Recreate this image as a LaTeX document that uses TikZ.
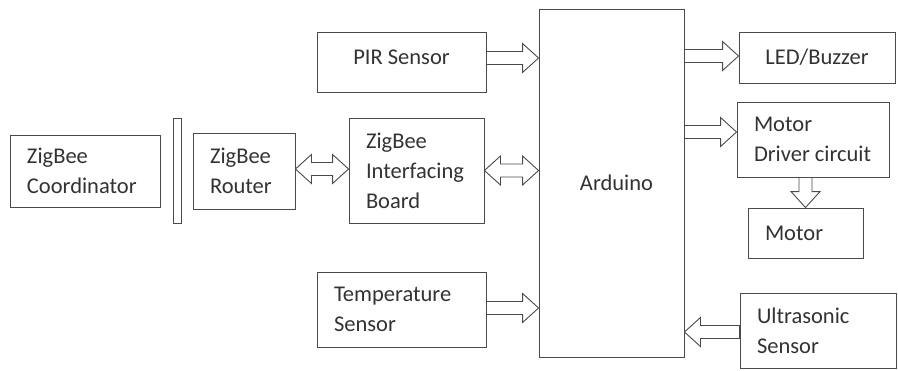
\documentclass[tikz,border=0pt]{standalone}
\usepackage{fontspec}
\setmainfont{Carlito}
\usetikzlibrary{positioning, calc}
\definecolor{boxline}{HTML}{4A4A4A}
\definecolor{boxtext}{HTML}{333333}
\tikzset{
	blocknode/.style={
			rectangle,
			draw=boxline,
			line width=0.9pt,
			fill=white,
			text=boxtext,
			font=\fontsize{22.5}{30}\selectfont,
			inner xsep=17pt,
			inner ysep=0pt,
			align=flush left
		},
	centernode/.style={
			blocknode,
			align=center,
			inner xsep=0pt
		},
	fatarrow/.style={
			draw=boxline,
			line width=0.9pt,
			fill=white,
			line join=miter,
			to path={
				let \p1=(\tikztostart), \p2=(\tikztotarget),
				    \p3=($(\p2)!16pt!(\p1)$) in
				($(\p1)!6.5pt!90:(\p2)$) -- ($(\p3)!6.5pt!90:(\p2)$)
				-- ($(\p3)!14.5pt!90:(\p2)$) -- (\p2)
				-- ($(\p3)!14.5pt!-90:(\p2)$) -- ($(\p3)!6.5pt!-90:(\p2)$)
				-- ($(\p1)!6.5pt!-90:(\p2)$) -- cycle
			}
		},
	fatboth/.style={
			draw=boxline,
			line width=0.9pt,
			fill=white,
			line join=miter,
			to path={
				let \p1=(\tikztostart), \p2=(\tikztotarget),
				    \p3=($(\p2)!16pt!(\p1)$), \p4=($(\p1)!16pt!(\p2)$) in
				(\p1) -- ($(\p4)!14.5pt!90:(\p2)$) -- ($(\p4)!6.5pt!90:(\p2)$)
				-- ($(\p3)!6.5pt!90:(\p2)$) -- ($(\p3)!14.5pt!90:(\p2)$) -- (\p2)
				-- ($(\p3)!14.5pt!-90:(\p2)$) -- ($(\p3)!6.5pt!-90:(\p2)$)
				-- ($(\p4)!6.5pt!-90:(\p2)$) -- ($(\p4)!14.5pt!-90:(\p2)$) -- cycle
			}
		}
}
\begin{document}
\begin{tikzpicture}[x=1pt, y=-1pt]
\useasboundingbox (0,0) rectangle (898,370);
    \node[blocknode, minimum width=150pt, minimum height=72pt, text width=116pt] (coord) at (85,171) {ZigBee\\Coordinator};
    \node[blocknode, minimum width=8pt, minimum height=105pt, inner xsep=0pt] (bar) at (177,170.5) {};
    \node[blocknode, minimum width=102pt, minimum height=76pt, text width=68pt] (router) at (244,171) {ZigBee\\Router};
    \node[blocknode, minimum width=135pt, minimum height=105pt, text width=101pt] (board) at (416.5,170.5) {ZigBee\\Interfacing\\Board};
    \node[centernode, minimum width=169pt, minimum height=60pt, text depth=10pt] (pir) at (401.5,62) {PIR Sensor};
    \node[blocknode, minimum width=169pt, minimum height=75pt, text width=135pt] (temp) at (401.5,309.5) {Temperature\\Sensor};
    \node[centernode, minimum width=145pt, minimum height=348pt] (ard) at (611.5,183) {\hspace{10pt}Arduino};
    \node[centernode, minimum width=156pt, minimum height=51pt] (led) at (817,57.5) {LED/Buzzer};
    \node[blocknode, minimum width=152pt, minimum height=75pt, text width=118pt] (driver) at (813,139.5) {Motor\\Driver circuit};
    \node[blocknode, minimum width=115pt, minimum height=50pt, text width=81pt] (motor) at (805.5,233) {Motor};
    \node[blocknode, minimum width=156pt, minimum height=75pt, text width=122pt] (ultra) at (818,330.5) {Ultrasonic\\Sensor};

    \draw[fatarrow] ([yshift=4pt]pir.east) to ([yshift=4pt]pir.east -| ard.west);
    \draw[fatboth] ([yshift=2pt]router.east) to ([yshift=2pt]router.east -| board.west);
    \draw[fatboth] (board.east) to (board.east -| ard.west);
    \draw[fatarrow] ([yshift=1.5pt]temp.east) to ([yshift=1.5pt]temp.east -| ard.west);

    \draw[fatarrow] ([yshift=1.5pt]led.west -| ard.east) to ([yshift=1.5pt]led.west);
    \draw[fatarrow] ([yshift=7.5pt]driver.west -| ard.east) to ([yshift=7.5pt]driver.west);
    \draw[fatarrow] (driver.south -| motor.north) to (motor.north);
    \draw[fatarrow] ([yshift=-1.5pt]ultra.west) to ([yshift=-1.5pt]ultra.west -| ard.east);
\end{tikzpicture}
\end{document}
